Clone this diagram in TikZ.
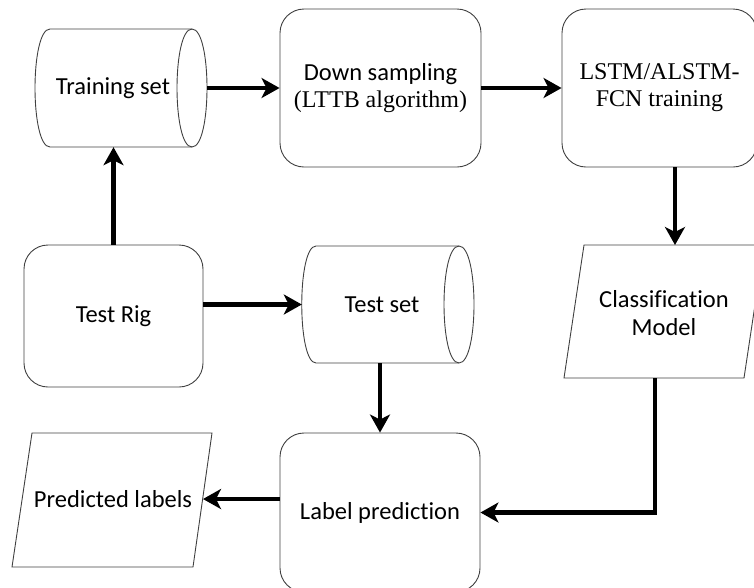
\documentclass[tikz,border=0pt]{standalone}
\usepackage{fontspec}
\setmainfont{Liberation Serif}
\newfontfamily\calfont[Ligatures=NoCommon]{Carlito}
\usetikzlibrary{arrows.meta}
\begin{document}
\begin{tikzpicture}[x=1pt,y=-1pt,
  outline/.style={draw=black!75, line width=0.9pt},
  rbox/.style={outline, rounded corners=24pt, inner sep=0pt, align=center, font=\fontsize{24}{27}\selectfont},
  body/.style={draw=none, inner sep=0pt},
  lbl/.style={align=center, inner sep=0pt, font=\calfont\fontsize{24.5}{28}\selectfont},
  arr/.style={line width=4.5pt, -{Stealth[length=18pt,width=20pt,inset=5pt]}}]
\useasboundingbox (0,0) rectangle (754,587);

% rounded boxes
\node[rbox, minimum width=201pt, minimum height=158pt] (down) at (380.5,88) {{\calfont\fontsize{24.5}{27}\selectfont Down sampling}\\(LTTB algorithm)};
\node[rbox, minimum width=195pt, minimum height=158pt] (lstm) at (659.5,88) {LSTM/ALSTM-\\FCN training};
\node[rbox, minimum width=179pt, minimum height=142pt] (trig) at (113.5,316) {\calfont\fontsize{24.5}{28}\selectfont Test Rig};
\node[rbox, minimum width=200pt, minimum height=159pt] (lab) at (380,512.5) {\calfont\fontsize{24.5}{28}\selectfont Label prediction};

% training set cylinder
\node[body, minimum width=172pt, minimum height=118pt] (train) at (121,88) {};
\draw[outline] (50,29) -- (192,29) .. controls (212,29) and (212,147) .. (192,147) -- (50,147)
  .. controls (30,147) and (30,29) .. (50,29);
\draw[outline] (192,29) .. controls (172,29) and (172,147) .. (192,147);
\node[lbl] (trainT) at (113,88) {Training set};

% test set cylinder
\node[body, minimum width=172pt, minimum height=117pt] (test) at (388,304.5) {};
\draw[outline] (316,246) -- (459,246) .. controls (479,246) and (479,363) .. (459,363) -- (316,363)
  .. controls (297,363) and (297,246) .. (316,246);
\draw[outline] (459,246) .. controls (439,246) and (439,363) .. (459,363);
\node[lbl] (testT) at (382,305) {Test set};

% classification model parallelogram
\draw[outline] (584,245) -- (764,245) -- (744,378) -- (564,378) -- cycle;
\node[lbl] (cls) at (664,313) {Classification\\Model};
\coordinate (clsTop) at (675,245);
\coordinate (clsBot) at (655,378);

% predicted labels parallelogram
\draw[outline] (32,433) -- (212,433) -- (193,567) -- (12,567) -- cycle;
\node[lbl] (pred) at (113,499) {Predicted labels};
\coordinate (predR) at (203,499);

% connectors
\draw[arr] (train.east) -- (down.west);
\draw[arr] (down.east) -- (lstm.west);
\draw[arr] ([xshift=15.5pt]lstm.south) -- (clsTop);
\draw[arr] (clsBot) |- (lab.east);
\draw[arr] (trig.north) -- (trig.north |- train.south);
\draw[arr] (trig.east |- test.west) -- (test.west);
\draw[arr] (lab.north |- test.south) -- (lab.north);
\draw[arr] ([yshift=13.5pt]lab.west) -- (predR);
\end{tikzpicture}
\end{document}
